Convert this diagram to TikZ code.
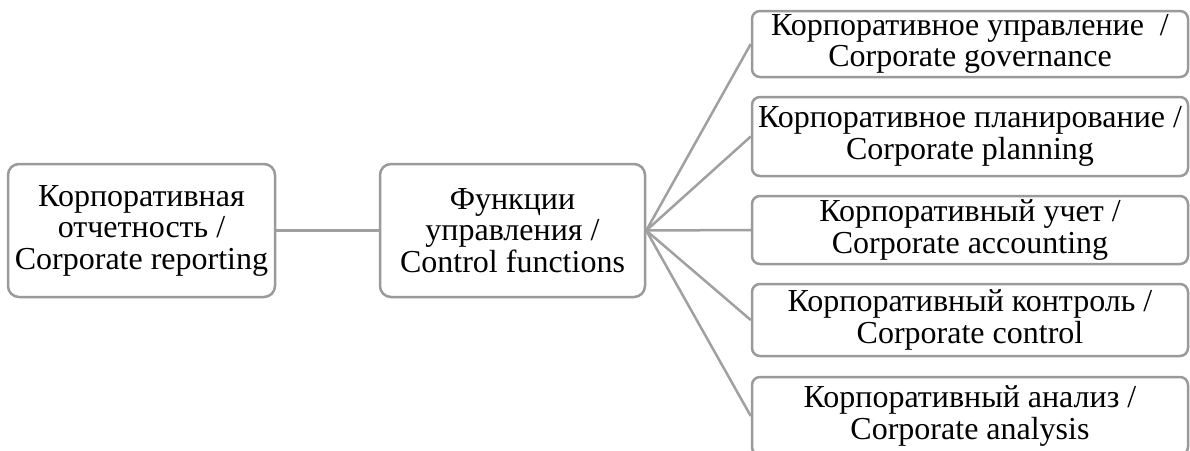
\documentclass[tikz,border=0pt]{standalone}
\usepackage{fontspec}
\setmainfont{Liberation Serif}
\definecolor{edgegray}{HTML}{A0A0A0}
\definecolor{boxgray}{HTML}{9A9A9A}
\begin{document}
\begin{tikzpicture}[x=1pt,y=-1pt,
  box/.style={draw=boxgray,line width=2.5pt,fill=white,rounded corners=11pt,align=center,
    inner sep=0pt,font=\fontsize{32}{31.5}\selectfont},
  rbox/.style={box,rounded corners=8pt,minimum width=436pt},
  link/.style={draw=edgegray,line width=2.5pt}]
\useasboundingbox (0,0) rectangle (1190,450);
\node[box,minimum width=267pt,minimum height=133pt] (rep) at (141.5,230.5)
  {Корпоративная\\отчетность /\\Corporate reporting};
\node[box,minimum width=265pt,minimum height=133pt] (fun) at (512.5,230.5)
  {Функции\\управления /\\Control functions};
\node[rbox,minimum height=66pt] (r1) at (970,44) {Корпоративное управление~ /\\Corporate governance};
\node[rbox,minimum height=79pt] (r2) at (970,136.5) {Корпоративное планирование /\\Corporate planning};
\node[rbox,minimum height=68pt] (r3) at (970,230) {Корпоративный учет /\\Corporate accounting};
\node[rbox,minimum height=72pt] (r4) at (970,320) {Корпоративный контроль /\\Corporate control};
\node[rbox,minimum height=78pt] (r5) at (970,416) {Корпоративный анализ /\\Corporate analysis};
\path[link] (rep.east) -- (fun.west);
\foreach \n in {r1,r2,r3,r4,r5} \path[link] (fun.east) -- (\n.west);
\end{tikzpicture}
\end{document}
